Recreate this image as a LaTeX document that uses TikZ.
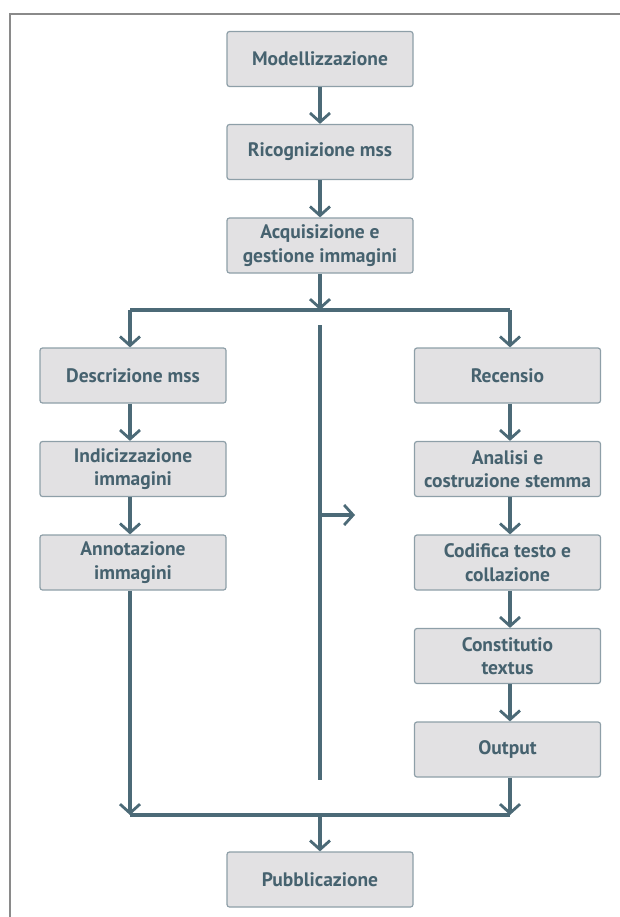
\documentclass[tikz,border=0pt]{standalone}
\usepackage{fontspec}
\setmainfont{PT Sans}
\usetikzlibrary{arrows.meta}
\definecolor{boxfill}{HTML}{E2E1E3}
\definecolor{boxdraw}{HTML}{8E9FA8}
\definecolor{txt}{HTML}{46626F}
\definecolor{arr}{HTML}{4C6A77}
\definecolor{frame}{HTML}{8A8A8A}
\begin{document}
\begin{tikzpicture}[x=1pt,y=-1pt,
  stepbox/.style={draw=boxdraw,line width=1.2pt,fill=boxfill,rounded corners=2.5pt,
    minimum width=186pt,minimum height=55pt,inner sep=0pt,align=center,
    text=txt,font=\fontsize{19.5}{23.5}\selectfont\bfseries},
  flow/.style={draw=arr,line width=3.6pt},
  arrow/.style={flow,-{Straight Barb[length=9pt,width=20pt,line width=2.8pt]}},
  frameline/.style={draw=frame,line width=2pt}]
\useasboundingbox (0,0) rectangle (620,917);
\draw[frameline] (10,917) -- (10,14) -- (620,14);
% nodes
\node[stepbox] (mod) at (320,59) {Modellizzazione};
\node[stepbox] (ric) at (320,152) {Ricognizione mss};
\node[stepbox] (acq) at (320,245.5) {Acquisizione e\\gestione immagini};
\node[stepbox] (des) at (133,375.5) {Descrizione mss};
\node[stepbox] (ind) at (133,469) {Indicizzazione\\immagini};
\node[stepbox] (ann) at (133,562.5) {Annotazione\\immagini};
\node[stepbox] (rec) at (507.5,375.5) {Recensio};
\node[stepbox] (ana) at (507.5,469) {Analisi e\\costruzione stemma};
\node[stepbox] (cod) at (507.5,562.5) {Codifica testo e\\collazione};
\node[stepbox] (con) at (507.5,656) {Constitutio\\textus};
\node[stepbox] (out) at (507.5,749.5) {Output};
\node[stepbox] (pub) at (320,879.5) {Pubblicazione};
% coordinates
\coordinate (split) at (320,310);
\coordinate (splitL) at (130,310);
\coordinate (splitR) at (510,310);
\coordinate (joinL) at (130,815);
\coordinate (joinR) at (510,815);
\coordinate (join) at (320,815);
\coordinate (midtop) at (320,325);
\coordinate (midbot) at (320,780);
\coordinate (midbranch) at (320,515);
\coordinate (midtip) at (355,515);
% connectors
\draw[arrow] (mod.south) -- (ric.north);
\draw[arrow] (ric.south) -- (acq.north);
\draw[arrow] (acq.south) -- (split);
\draw[flow] (splitL) -- (splitR);
\draw[arrow] (splitL) -- (splitL |- des.north);
\draw[arrow] (splitR) -- (splitR |- rec.north);
\draw[arrow] (des.south -| splitL) -- (splitL |- ind.north);
\draw[arrow] (ind.south -| splitL) -- (splitL |- ann.north);
\draw[arrow] (ann.south -| splitL) -- (joinL);
\draw[arrow] (rec.south -| splitR) -- (splitR |- ana.north);
\draw[arrow] (ana.south -| splitR) -- (splitR |- cod.north);
\draw[arrow] (cod.south -| splitR) -- (splitR |- con.north);
\draw[arrow] (con.south -| splitR) -- (splitR |- out.north);
\draw[arrow] (out.south -| splitR) -- (joinR);
\draw[flow] (joinL) -- (joinR);
\draw[arrow] (join) -- (pub.north);
\draw[flow] (midtop) -- (midbot);
\draw[arrow] (midbranch) -- (midtip);
\end{tikzpicture}
\end{document}
